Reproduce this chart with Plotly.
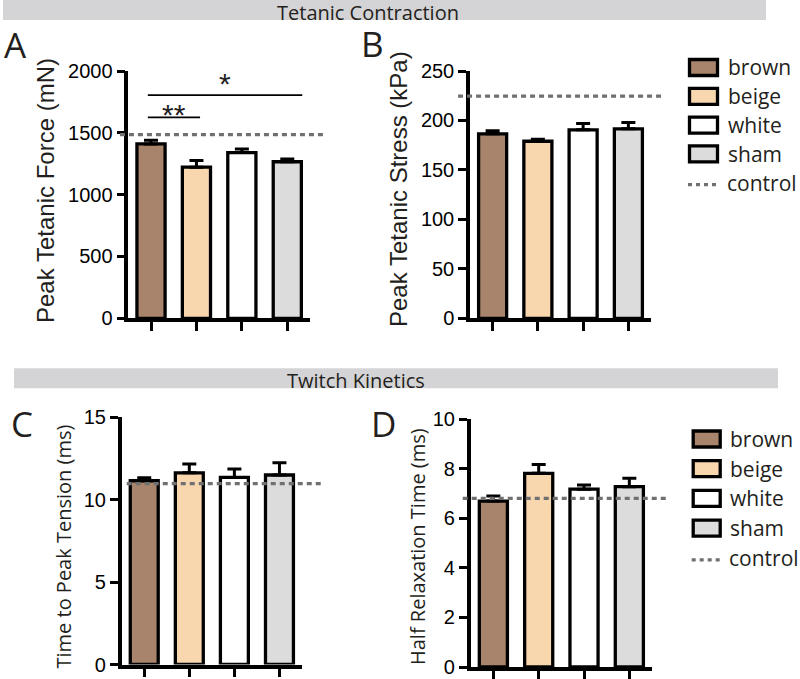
import plotly.graph_objects as go

# ---------------- data ----------------
groups = ["brown", "beige", "white", "sham"]
bar_colors = ["#A8846C", "#F8D7AF", "#FFFFFF", "#DCDCDC"]

force_mean = [1410, 1222, 1340, 1266]
force_sem = [30, 55, 30, 22]
force_control = 1485

stress_mean = [186.5, 179, 190.5, 191.5]
stress_sem = [3, 2, 6.5, 6.5]
stress_control = 224.5

ttp_mean = [11.15, 11.63, 11.35, 11.5]
ttp_sem = [0.18, 0.53, 0.52, 0.74]
ttp_control = 10.97

hrt_mean = [6.7, 7.82, 7.18, 7.28]
hrt_sem = [0.2, 0.36, 0.17, 0.34]
hrt_control = 6.81

# significance in panel A: (group i, group j, label, bar height, label height)
sig_pairs = [(0, 1, "**", 1625, 1701), (0, 3, "*", 1805, 1958)]

force_ticks = [0, 500, 1000, 1500, 2000]
stress_ticks = [0, 50, 100, 150, 200, 250]
ttp_ticks = [0, 5, 10, 15]
hrt_ticks = [0, 2, 4, 6, 8, 10]

W, H = 800, 679


def px(x):
    return x / W


def py(y):
    return 1 - y / H


ARIAL = "Liberation Sans, Arial, sans-serif"
MYRIAD = "Open Sans, sans-serif"

fig = go.Figure()

panels = [
    ("", force_mean, force_sem, force_control, [0, 2000], force_ticks, (128.3, 310), (318.3, 71), (-0.046, 1.083)),
    ("2", stress_mean, stress_sem, stress_control, [0, 250], stress_ticks, (470, 651), (318.3, 71), (-0.066, 1.07)),
    ("3", ttp_mean, ttp_sem, ttp_control, [0, 15], ttp_ticks, (121.7, 302), (664.5, 417.3), (0.028, 1.119)),
    ("4", hrt_mean, hrt_sem, hrt_control, [0, 10], hrt_ticks, (470.7, 652), (667, 419.3), (-0.044, 1.095)),
]

shapes = []
annotations = []

for suf, means, sems, ctrl, yr, ticks, xd, yd, dx in panels:
    xa = "x" + suf
    ya = "y" + suf
    fig.add_trace(go.Bar(
        x=groups, y=means, xaxis=xa, yaxis=ya,
        marker=dict(color=bar_colors, line=dict(color="black", width=3.3)),
        width=0.62,
        error_y=dict(type="data", array=sems, arrayminus=[0] * len(sems),
                     symmetric=False, color="black", thickness=3, width=7),
        showlegend=False, hoverinfo="skip",
    ))
    fig.layout["xaxis" + suf] = dict(
        domain=[px(xd[0]), px(xd[1])], anchor=ya, type="category",
        range=[-0.5, 3.5], showgrid=False, zeroline=False,
        showline=True, linecolor="black", linewidth=3.5,
        ticks="outside", ticklen=9, tickwidth=3, tickcolor="black",
        showticklabels=False, fixedrange=True, automargin=False,
    )
    fig.layout["yaxis" + suf] = dict(
        domain=[py(yd[0]), py(yd[1])], anchor=xa, range=yr,
        showgrid=False, zeroline=False,
        showline=True, linecolor="black", linewidth=3.5,
        ticks="outside", ticklen=8, tickwidth=3, tickcolor="black",
        tickvals=ticks, ticktext=[str(t) for t in ticks],
        tickfont=dict(family=ARIAL, size=20, color="black"), ticklabelstandoff=0,
        fixedrange=True, automargin=False,
    )
    shapes.append(dict(type="line", xref=xa + " domain", yref=ya,
                       x0=dx[0], x1=dx[1], y0=ctrl, y1=ctrl,
                       line=dict(color="#707070", width=3.2, dash="5px,4px"), layer="above"))

# significance bars in panel A
for i, j, lab, h, th in sig_pairs:
    x0 = i - 0.07
    x1 = j + (0.08 if j == 1 else 0.33)
    shapes.append(dict(type="line", xref="x", yref="y", x0=x0, x1=x1, y0=h, y1=h,
                       line=dict(color="black", width=1.8)))
    annotations.append(dict(x=(x0 + x1) / 2, y=th, xref="x", yref="y", text=lab,
                            showarrow=False, yanchor="middle", yshift=-7,
                            font=dict(family=ARIAL, size=30, color="#222")))

# header bars
headers = [("Tetanic Contraction", (3, 766), (0, 20), 367.5),
           ("Twitch Kinetics", (14, 778), (368.3, 388.3), 356)]
for text, (x0, x1), (y0, y1), cx in headers:
    shapes.append(dict(type="rect", xref="paper", yref="paper",
                       x0=px(x0), x1=px(x1), y0=py(y1), y1=py(y0),
                       fillcolor="#D4D4D6", line=dict(width=0), layer="below"))
    annotations.append(dict(x=px(cx), y=py(y1 - 7.5), xref="paper", yref="paper",
                            text=text, showarrow=False, xanchor="center", yanchor="middle",
                            borderpad=0,
                            font=dict(family=MYRIAD, size=20, color="#231F20")))

# panel letters
for lab, (cx, cy) in zip(["A", "B", "C", "D"], [(15, 45), (372, 44), (22, 423), (383, 423)]):
    annotations.append(dict(x=px(cx), y=py(cy), xref="paper", yref="paper", text=lab,
                            showarrow=False, xanchor="center", yanchor="middle", borderpad=0,
                            font=dict(family=MYRIAD, size=35, color="#231F20")))

# y-axis titles
ytitles = [("Peak Tetanic Force (mN)", 45, 191, ARIAL, 24),
           ("Peak Tetanic Stress (kPa)", 398, 189, ARIAL, 24),
           ("Time to Peak Tension (ms)", 62.5, 547, MYRIAD, 20),
           ("Half Relaxation Time (ms)", 417, 547, MYRIAD, 20)]
for text, cx, cy, fam, sz in ytitles:
    annotations.append(dict(x=px(cx), y=py(cy), xref="paper", yref="paper", text=text,
                            textangle=-90, showarrow=False, xanchor="center", yanchor="middle",
                            borderpad=0,
                            font=dict(family=fam, size=sz, color="#231F20")))

# legends (built from groups)
legends = [((688, 719), 67.5, 28.8, 727), ((691.7, 721.7), 439, 29.7, 729)]
for (bx0, bx1), y_start, step, tx in legends:
    for k, (g, c) in enumerate(zip(groups, bar_colors)):
        yc = y_start + k * step
        shapes.append(dict(type="rect", xref="paper", yref="paper",
                           x0=px(bx0 + 1.5), x1=px(bx1 - 1.5),
                           y0=py(yc + 8), y1=py(yc - 8),
                           fillcolor=c, line=dict(color="black", width=3.3)))
        annotations.append(dict(x=px(tx), y=py(yc), xref="paper", yref="paper", text=g,
                                showarrow=False, xanchor="left", yanchor="middle", borderpad=0,
                                font=dict(family=MYRIAD, size=21, color="#231F20")))
    yc = y_start + 4 * step
    shapes.append(dict(type="line", xref="paper", yref="paper",
                       x0=px(bx0), x1=px(bx1), y0=py(yc + 2), y1=py(yc + 2),
                       line=dict(color="#707070", width=3.2, dash="4px,4px")))
    annotations.append(dict(x=px(tx - 1), y=py(yc), xref="paper", yref="paper", text="control",
                            showarrow=False, xanchor="left", yanchor="middle", borderpad=0,
                            font=dict(family=MYRIAD, size=21, color="#231F20")))

fig.update_layout(
    width=W, height=H, margin=dict(l=0, r=0, t=0, b=0, pad=0, autoexpand=False),
    paper_bgcolor="white", plot_bgcolor="white",
    shapes=shapes, annotations=annotations,
    showlegend=False,
)

fig.write_html(
    "out.html",
    config={"displayModeBar": False},
    post_script="document.body.style.margin='0';document.body.style.overflow='hidden';",
)
